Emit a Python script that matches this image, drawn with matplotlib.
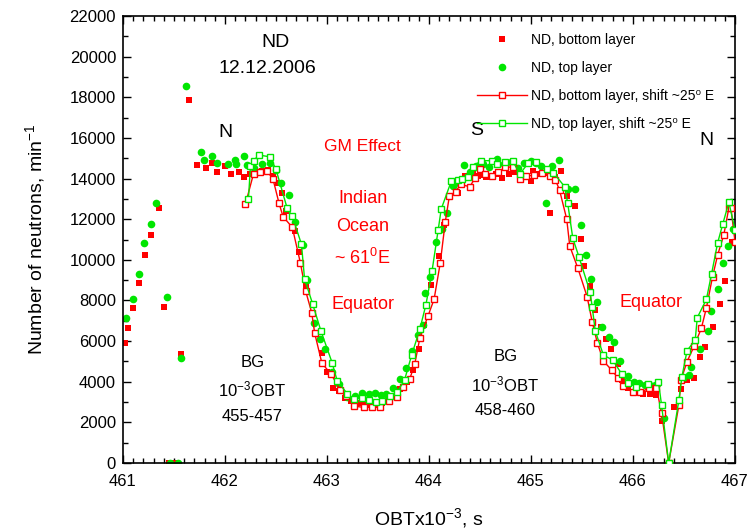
import matplotlib
matplotlib.use("Agg")
from matplotlib import pyplot as plt
from matplotlib.ticker import MultipleLocator

plt.rcParams['font.family'] = ['Liberation Sans', 'DejaVu Sans']
plt.rcParams['mathtext.fontset'] = 'custom'
plt.rcParams['mathtext.rm'] = 'Liberation Sans'
plt.rcParams['mathtext.it'] = 'Liberation Sans:italic'
plt.rcParams['mathtext.bf'] = 'Liberation Sans:bold'

# ND, bottom layer (filled red squares)
bot_x = [461.02, 461.05, 461.10, 461.16, 461.22, 461.27, 461.35, 461.40, 461.45, 461.50,
         461.57, 461.65, 461.73, 461.81, 461.87, 461.92, 462.00, 462.06, 462.14, 462.19,
         462.25, 462.31, 462.36, 462.42, 462.47, 462.52, 462.56, 462.60, 462.69, 462.73,
         462.79, 462.85, 462.88, 462.95, 463.00, 463.06, 463.12, 463.18, 463.24, 463.30,
         463.36, 463.42, 463.48, 463.54, 463.60, 463.66, 463.72, 463.78, 463.84, 463.90,
         463.95, 464.02, 464.10, 464.15, 464.20, 464.28, 464.35, 464.43, 464.48, 464.52,
         464.56, 464.61, 464.66, 464.72, 464.78, 464.84, 464.90, 464.95, 465.00, 465.02,
         465.08, 465.13, 465.19, 465.24, 465.29, 465.35, 465.43, 465.49, 465.52, 465.58,
         465.63, 465.69, 465.74, 465.78, 465.85, 465.89, 465.95, 466.01, 466.06, 466.10,
         466.17, 466.23, 466.28, 466.40, 466.47, 466.53, 466.60, 466.66, 466.71, 466.78,
         466.85, 466.90, 466.97]
bot_y = [5900, 6630, 7640, 8870, 10240, 11220, 12560, 7690, 0, 0,
         5360, 17860, 14660, 14500, 14780, 14300, 14620, 14200, 14300, 14060,
         14200, 14280, 14350, 14420, 14150, 13800, 13300, 12400, 11430, 10400,
         8730, 7400, 6410, 5400, 4490, 3670, 3550, 3180, 3050, 2950,
         2850, 2900, 2850, 2950, 3100, 3300, 3650, 4000, 4600, 5600,
         6800, 8760, 10190, 11710, 13100, 13270, 14120, 14260, 14150, 14170,
         14090, 14100, 14210, 14050, 14200, 14300, 13950, 14100, 13890, 14380,
         14200, 14260, 12290, 14100, 14370, 13160, 12660, 11010, 9710, 8700,
         7530, 6700, 6090, 5610, 4860, 4080, 3700, 3500, 3480, 3380,
         3380, 3350, 2070, 2770, 3630, 4080, 4170, 5230, 5720, 6700,
         7820, 8970, 10890]

# ND, top layer (filled green circles)
top_x = [461.03, 461.10, 461.16, 461.21, 461.27, 461.32, 461.43, 461.46, 461.54, 461.57,
         461.62, 461.76, 461.79, 461.87, 461.92, 462.03, 462.10, 462.11, 462.19, 462.22,
         462.28, 462.36, 462.44, 462.50, 462.55, 462.63, 462.69, 462.76, 462.80, 462.87,
         462.93, 462.98, 463.05, 463.12, 463.20, 463.27, 463.34, 463.41, 463.47, 463.53,
         463.58, 463.65, 463.72, 463.77, 463.83, 463.89, 463.94, 463.96, 464.01, 464.07,
         464.13, 464.18, 464.24, 464.29, 464.34, 464.40, 464.46, 464.53, 464.59, 464.67,
         464.74, 464.80, 464.87, 464.93, 465.00, 465.05, 465.10, 465.15, 465.21, 465.27,
         465.36, 465.43, 465.49, 465.54, 465.59, 465.65, 465.70, 465.76, 465.81, 465.87,
         465.95, 466.01, 466.06, 466.12, 466.18, 466.24, 466.30, 466.49, 466.55, 466.57,
         466.66, 466.74, 466.76, 466.83, 466.88, 466.93, 466.98]
top_y = [7120, 8060, 9320, 10840, 11760, 12810, 8190, 0, 0, 5180,
         18570, 15320, 14910, 15110, 14750, 14700, 14900, 14700, 15110, 14670,
         14500, 14700, 14750, 14400, 13790, 13190, 11880, 10730, 9010, 6890,
         6100, 5600, 4500, 3900, 3260, 3300, 3430, 3400, 3430, 3350,
         3380, 3700, 4130, 4660, 5500, 6300, 6790, 8350, 9170, 10890,
         11500, 12320, 13630, 13800, 14670, 14300, 14600, 14700, 14550, 14940,
         14700, 14800, 14500, 14750, 14850, 14780, 14620, 12780, 14600, 14910,
         13470, 13470, 11710, 10240, 9060, 7940, 6680, 6200, 5970, 5030,
         4280, 4000, 3920, 3850, 3800, 3900, 2230, 4170, 4330, 4740,
         5600, 6500, 7480, 8550, 9860, 10700, 11500]

# ND, bottom layer, shift ~25 E (open red squares + line)
bsh_x = [462.20, 462.28, 462.34, 462.41, 462.47, 462.53, 462.57, 462.66, 462.74, 462.79,
         462.85, 462.88, 462.95, 463.04, 463.13, 463.19, 463.26, 463.36, 463.44, 463.52,
         463.61, 463.69, 463.75, 463.81, 463.86, 463.91, 463.99, 464.05, 464.11, 464.16,
         464.20, 464.26, 464.31, 464.40, 464.45, 464.50, 464.55, 464.62, 464.68, 464.75,
         464.82, 464.89, 464.95, 465.03, 465.11, 465.19, 465.24, 465.28, 465.35, 465.38,
         465.46, 465.55, 465.60, 465.65, 465.71, 465.79, 465.85, 465.90, 466.00, 466.07,
         466.16, 466.23, 466.28, 466.35, 466.45, 466.47, 466.53, 466.60, 466.67, 466.72,
         466.78, 466.83, 466.89, 466.94, 466.96, 467.00]
bsh_y = [12730, 14240, 14300, 14370, 13990, 12780, 12120, 11600, 9830, 8480,
         7400, 6380, 4910, 4380, 3590, 3300, 2800, 2740, 2740, 2740,
         3070, 3260, 3730, 4120, 4860, 6140, 7230, 8060, 9830, 11880,
         13140, 13350, 13710, 13600, 14010, 14470, 14210, 14120, 14300, 14580,
         14550, 13980, 14120, 14170, 14290, 14120, 13930, 13430, 12010, 10680,
         9580, 8190, 6950, 5920, 5020, 4580, 4200, 3790, 3480, 3480,
         3680, 3710, 2450, 0, 2850, 4080, 4990, 5760, 6630, 7640,
         9170, 10240, 11220, 12560, 12560, 10900]

# ND, top layer, shift ~25 E (open green squares + line)
tsh_x = [462.23, 462.25, 462.28, 462.33, 462.44, 462.50, 462.61, 462.66, 462.75, 462.78,
         462.86, 462.94, 463.05, 463.10, 463.20, 463.26, 463.34, 463.41, 463.48, 463.54,
         463.62, 463.69, 463.76, 463.83, 463.91, 463.97, 464.03, 464.09, 464.12, 464.22,
         464.28, 464.32, 464.38, 464.43, 464.51, 464.62, 464.67, 464.75, 464.82, 464.89,
         464.97, 465.05, 465.16, 465.22, 465.33, 465.36, 465.41, 465.47, 465.58, 465.60,
         465.63, 465.71, 465.80, 465.89, 465.95, 466.03, 466.15, 466.25, 466.28, 466.35,
         466.45, 466.48, 466.53, 466.61, 466.63, 466.72, 466.77, 466.83, 466.88, 466.94,
         467.00]
tsh_y = [13010, 14620, 14860, 15160, 15070, 14450, 12530, 12150, 10760, 9060,
         7820, 6510, 4940, 4050, 3400, 3130, 3210, 3100, 2990, 3070,
         3300, 3510, 4080, 5310, 6580, 7790, 9450, 11470, 12500, 13890,
         13950, 13980, 14060, 14580, 14880, 14880, 14710, 14800, 14880, 14210,
         14750, 14830, 14450, 14290, 13600, 12780, 11060, 10150, 8400, 7690,
         6500, 5310, 5070, 4380, 3950, 3760, 3870, 3990, 2850, 0,
         3100, 4250, 5530, 6050, 7150, 8060, 9300, 10840, 11760, 12830,
         11470]

red = "#ff0000"
green = "#00e600"

fig = plt.figure(figsize=(7.49, 5.32), dpi=100)
ax = fig.add_axes([0.1642, 0.1297, 0.8171, 0.8402])

ax.plot(bot_x, bot_y, "s", color=red, markersize=5, markeredgewidth=0, label="ND, bottom layer", zorder=2)
ax.plot(top_x, top_y, "o", color=green, markersize=5.5, markeredgewidth=0, label="ND, top layer", zorder=2)
ax.plot(bsh_x, bsh_y, "-s", color=red, lw=1, markersize=5, markerfacecolor="white",
        markeredgewidth=1, label="ND, bottom layer, shift ~25\u2070 E", zorder=3)
ax.plot(tsh_x, tsh_y, "-s", color=green, lw=1, markersize=5, markerfacecolor="white",
        markeredgewidth=1, label="ND, top layer, shift ~25\u2070 E", zorder=4)

ax.set_xlim(461, 467)
ax.set_ylim(0, 22000)
ax.xaxis.set_major_locator(MultipleLocator(1))
ax.xaxis.set_minor_locator(MultipleLocator(0.1))
ax.yaxis.set_major_locator(MultipleLocator(2000))
ax.yaxis.set_minor_locator(MultipleLocator(1000))
ax.tick_params(which="both", direction="in", top=True, right=True, labelsize=12, width=1)
ax.tick_params(which="major", length=6)
ax.tick_params(axis="x", which="both", pad=8)
ax.tick_params(axis="y", which="both", pad=5)
ax.tick_params(which="minor", length=3.5)
for s in ax.spines.values():
    s.set_linewidth(1.2)

ax.set_xlabel("OBTx10$^{-3}$, s", fontsize=14, labelpad=12)
ax.set_ylabel("Number of neutrons, min$^{-1}$", fontsize=14, labelpad=16)

# annotations
ax.text(462.5, 20700, "ND", fontsize=14, ha="center", va="center")
ax.text(462.42, 19400, "12.12.2006", fontsize=14, ha="center", va="center")
ax.text(462.0, 16250, "N", fontsize=14, ha="center", va="center")
ax.text(464.47, 16350, "S", fontsize=14, ha="center", va="center")
ax.text(466.72, 15850, "N", fontsize=14, ha="center", va="center")
ax.text(463.35, 15600, "GM Effect", color=red, fontsize=12.5, ha="center", va="center")
ax.text(463.35, 13040, "Indian", color=red, fontsize=13, ha="center", va="center")
ax.text(463.35, 11660, "Ocean", color=red, fontsize=13, ha="center", va="center")
ax.text(463.35, 10080, "~ 61$^0$E", color=red, fontsize=13, ha="center", va="center")
ax.text(463.35, 7800, "Equator", color=red, fontsize=13, ha="center", va="center")
ax.text(466.18, 7900, "Equator", color=red, fontsize=13, ha="center", va="center")
ax.text(462.27, 4970, "BG", fontsize=12, ha="center", va="center")
ax.text(462.27, 3640, "10$^{-3}$OBT", fontsize=12, ha="center", va="center")
ax.text(462.27, 2310, "455-457", fontsize=12, ha="center", va="center")
ax.text(464.75, 5220, "BG", fontsize=12, ha="center", va="center")
ax.text(464.75, 3890, "10$^{-3}$OBT", fontsize=12, ha="center", va="center")
ax.text(464.75, 2560, "458-460", fontsize=12, ha="center", va="center")

ax.legend(loc="upper left", bbox_to_anchor=(0.578, 0.962), frameon=False, fontsize=10,
          numpoints=1, handlelength=3.6, handletextpad=0.3, labelspacing=1.0,
          borderpad=0, borderaxespad=0)

fig.savefig("out.png", dpi=100)
